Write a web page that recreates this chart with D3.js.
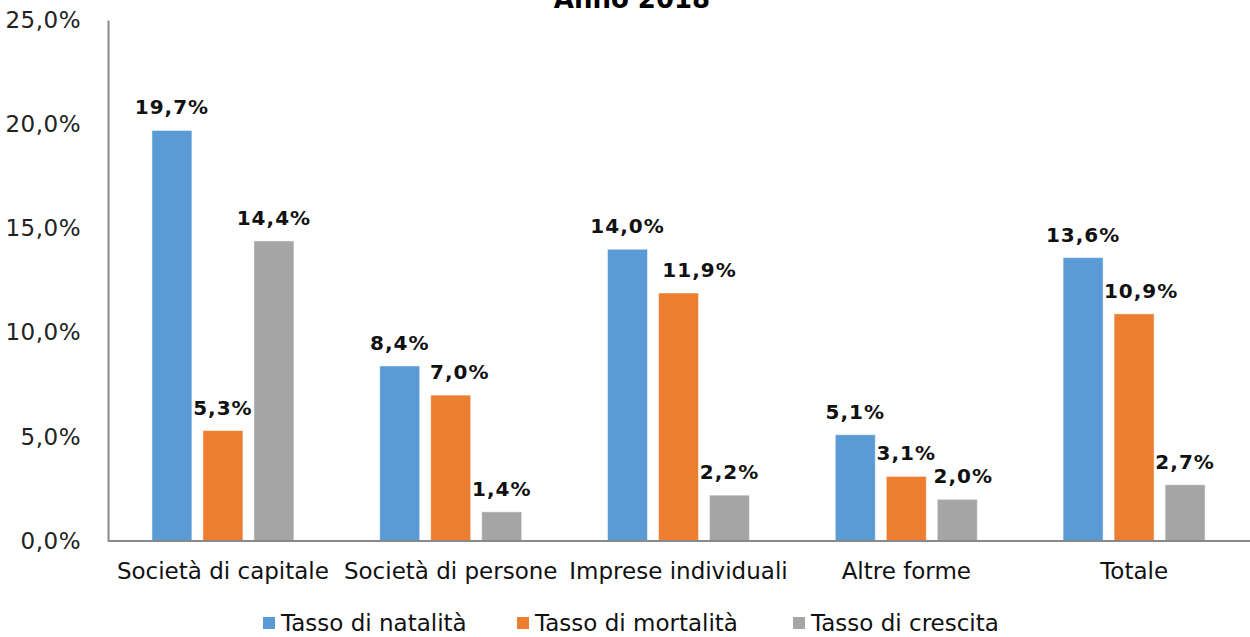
<!DOCTYPE html>
<html>
<head>
<meta charset="utf-8">
<title>Anno 2018</title>
<style>
  body { margin: 0; background: #fff; }
  svg { font-family: "DejaVu Sans", Verdana, sans-serif; }
</style>
</head>
<body>
<div id="chart"></div>
<script src="https://d3js.org/d3.v7.min.js"></script>
<script>
var categories = ["Società di capitale", "Società di persone", "Imprese individuali", "Altre forme", "Totale"];
var seriesNames = ["Tasso di natalità", "Tasso di mortalità", "Tasso di crescita"];
var natalita = [19.7, 8.4, 14.0, 5.1, 13.6];
var mortalita = [5.3, 7.0, 11.9, 3.1, 10.9];
var crescita = [14.4, 1.4, 2.2, 2.0, 2.7];
var yTicks = [0, 5, 10, 15, 20, 25];
var colors = ["#5B9BD5", "#ED7D31", "#A5A5A5"];

var series = [natalita, mortalita, crescita];
var width = 1250, height = 637;
var fmt = function (v) { return v.toFixed(1).replace(".", ",") + "%"; };

// a few labels were nudged sideways in the original to avoid overlaps
var nudge = { "1,1": 9, "1,2": 21, "1,4": 7, "2,3": 6 };

var svg = d3.select("#chart").append("svg")
  .attr("width", width).attr("height", height);

var x0 = d3.scaleBand().domain(categories).range([109, 1248]);
var x1 = d3.scaleBand().domain(d3.range(3)).range([0, 142]).paddingInner(11 / 51);
var y = d3.scaleLinear().domain([0, 25]).range([541, 20]);
var groupOffset = (x0.bandwidth() - 142) / 2;

// title (partly cut off at the top)
svg.append("text")
  .attr("x", 632).attr("y", 8)
  .attr("text-anchor", "middle")
  .style("font-size", "26px").style("font-weight", "bold")
  .text("Anno 2018");

// y axis
var yAxis = d3.axisLeft(y).tickValues(yTicks).tickSize(0).tickPadding(27).tickFormat(fmt);
var gy = svg.append("g").attr("transform", "translate(108,0)").call(yAxis);
gy.select(".domain").attr("stroke", "#898989").attr("stroke-width", 2);
gy.selectAll("text").style("font-size", "23px").style("font-family", "DejaVu Sans")
  .attr("fill", "#222").attr("letter-spacing", "0.5px");

// bars
var groups = svg.selectAll(".grp").data(categories).enter().append("g")
  .attr("transform", function (d) { return "translate(" + (x0(d) + groupOffset) + ",0)"; });

groups.each(function (cat, ci) {
  var g = d3.select(this);
  series.forEach(function (s, si) {
    g.append("rect")
      .attr("x", x1(si)).attr("width", x1.bandwidth())
      .attr("y", y(s[ci])).attr("height", y(0) - y(s[ci]))
      .attr("fill", colors[si])
      .attr("stroke", "#fff").attr("stroke-opacity", 0.5).attr("stroke-width", 1);
    g.append("text")
      .attr("x", x1(si) + x1.bandwidth() / 2 + (nudge[si + "," + ci] || 0))
      .attr("y", y(s[ci]) - 16)
      .attr("text-anchor", "middle")
      .style("font-size", "20px").style("font-weight", "bold")
      .attr("letter-spacing", "1px")
      .attr("fill", "#111")
      .text(fmt(s[ci]));
  });
});

// x axis
var xAxis = d3.axisBottom(x0).tickSize(0).tickPadding(22);
var gx = svg.append("g").attr("transform", "translate(0,541)").call(xAxis);
gx.select(".domain").attr("d", "M108,0H1250").attr("stroke", "#898989").attr("stroke-width", 2);
gx.selectAll("text").style("font-size", "23px").style("font-family", "DejaVu Sans").attr("fill", "#111");

// legend
var legendX = [263, 517, 793];
var lg = svg.selectAll(".lg").data(seriesNames).enter().append("g")
  .attr("transform", function (d, i) { return "translate(" + legendX[i] + ",617)"; });
lg.append("rect").attr("width", 12).attr("height", 12)
  .attr("fill", function (d, i) { return colors[i]; });
lg.append("text").attr("x", 18).attr("y", 6).attr("dy", "0.35em")
  .style("font-size", "23px").attr("fill", "#111")
  .text(function (d) { return d; });
</script>
</body>
</html>
